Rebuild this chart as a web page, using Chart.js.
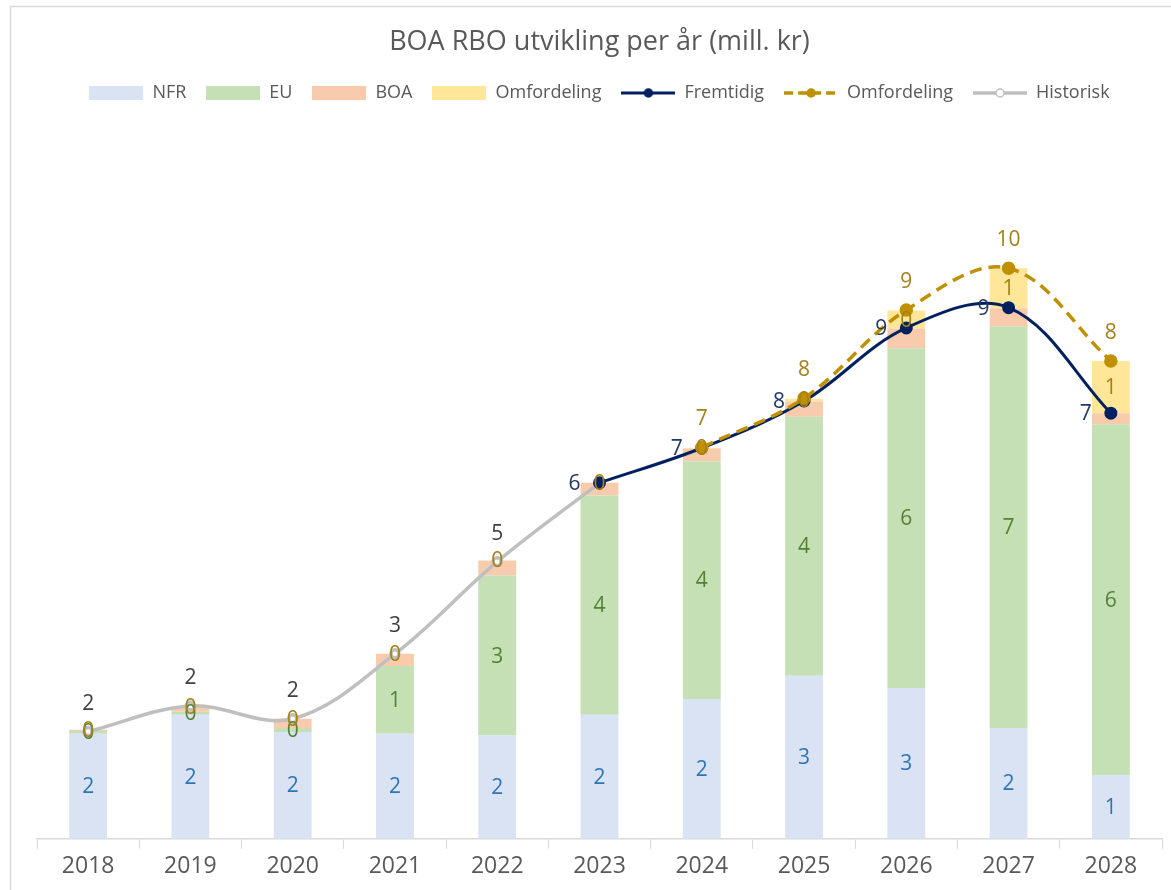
<!DOCTYPE html>
<html>
<head>
<meta charset="utf-8">
<script src="https://cdn.jsdelivr.net/npm/chart.js@4.4.1/dist/chart.umd.min.js"></script>
<style>
  html, body { margin: 0; padding: 0; background: #ffffff; }
  #wrap { width: 1171px; height: 890px; position: relative; }
</style>
</head>
<body>
<div id="wrap"><canvas id="c" width="1171" height="890"></canvas></div>
<script>
const TITLE = 'BOA RBO utvikling per år (mill. kr)';
const years = ['2018','2019','2020','2021','2022','2023','2024','2025','2026','2027','2028'];
const nfr = [1.81, 2.14, 1.84, 1.81, 1.78, 2.14, 2.41, 2.81, 2.60, 1.91, 1.10];
const eu = [0.05, 0.05, 0.07, 1.17, 2.76, 3.78, 4.10, 4.47, 5.86, 6.93, 6.05];
const boa = [0.02, 0.09, 0.16, 0.21, 0.26, 0.22, 0.22, 0.26, 0.34, 0.31, 0.19];
const omfBar = [0, 0, 0, 0, 0, 0, 0.01, 0.05, 0.31, 0.69, 0.90];
const fremtidig = [null, null, null, null, null, 6.14, 6.74, 7.55, 8.81, 9.16, 7.34];
const omfLine = [null, null, null, null, null, null, 6.75, 7.60, 9.12, 9.84, 8.24];
const historisk = [1.85, 2.29, 2.07, 3.19, 4.78, 6.14, null, null, null, null, null];
const yMax = 12;

const FONT = '"Open Sans", "Noto Sans", sans-serif';
const C = {
  nfr: '#dae3f3', eu: '#c5e0b4', boa: '#f8cbad', omf: '#ffe699',
  navy: '#002060', gold: '#bf9000', grey: '#bfbfbf',
  lblNfr: '#2e75b6', lblEu: '#548235', lblGold: '#a3801a', lblHist: '#404040', lblNavy: '#1f3864'
};

function boxImg(color) {
  const c = document.createElement('canvas');
  c.width = 54; c.height = 14;
  const x = c.getContext('2d');
  x.fillStyle = color; x.fillRect(0, 0, 54, 14);
  return c;
}
function lineImg(color, width, dash, fill) {
  const c = document.createElement('canvas');
  c.width = 54; c.height = 14;
  const x = c.getContext('2d');
  x.strokeStyle = color; x.lineWidth = width;
  if (dash) x.setLineDash(dash);
  x.beginPath(); x.moveTo(0, 7); x.lineTo(54, 7); x.stroke();
  x.setLineDash([]);
  x.beginPath(); x.arc(27, 7, 4, 0, Math.PI * 2);
  x.fillStyle = fill; x.fill();
  x.lineWidth = 1.5; x.strokeStyle = color; x.stroke();
  return c;
}
const legendImgs = [
  boxImg(C.nfr), boxImg(C.eu), boxImg(C.boa), boxImg(C.omf),
  lineImg(C.navy, 3, null, C.navy),
  lineImg(C.gold, 3.5, [9, 5], C.gold),
  lineImg(C.grey, 3.5, null, '#ffffff')
];

const borderPlugin = {
  id: 'frame',
  beforeDraw(chart) {
    const ctx = chart.ctx;
    ctx.save();
    ctx.fillStyle = '#ffffff';
    ctx.fillRect(0, 0, chart.width, chart.height);
    ctx.strokeStyle = '#d9d9d9';
    ctx.lineWidth = 1.5;
    ctx.beginPath();
    ctx.moveTo(10.5, chart.height);
    ctx.lineTo(10.5, 6.5);
    ctx.lineTo(chart.width, 6.5);
    ctx.stroke();
    ctx.restore();
  }
};

const labelPlugin = {
  id: 'vlabels',
  afterDatasetsDraw(chart) {
    const ctx = chart.ctx;
    ctx.save();
    ctx.font = '21px ' + FONT;
    ctx.textAlign = 'center';
    ctx.textBaseline = 'middle';
    chart.data.datasets.forEach((ds, i) => {
      const cfg = ds.lbl;
      if (!cfg) return;
      const meta = chart.getDatasetMeta(i);
      meta.data.forEach((el, j) => {
        const v = ds.data[j];
        if (v == null) return;
        if (cfg.skip && cfg.skip.indexOf(j) >= 0) return;
        let x = el.x, y = el.y;
        if (cfg.pos === 'center') y = (el.y + el.base) / 2;
        else if (cfg.pos === 'above') y = el.y - 29;
        else if (cfg.pos === 'left') x = el.x - 25;
        ctx.fillStyle = cfg.color;
        ctx.fillText(String(Math.round(v)), x, y + 1);
      });
    });
    ctx.restore();
  }
};

const barCommon = { type: 'bar', stack: 'bars', order: 2, barPercentage: 0.74, categoryPercentage: 0.5, borderWidth: 0 };

new Chart(document.getElementById('c'), {
  data: {
    labels: years,
    datasets: [
      Object.assign({ label: 'NFR', data: nfr, backgroundColor: C.nfr, lbl: { pos: 'center', color: C.lblNfr } }, barCommon),
      Object.assign({ label: 'EU', data: eu, backgroundColor: C.eu, lbl: { pos: 'center', color: C.lblEu } }, barCommon),
      Object.assign({ label: 'BOA', data: boa, backgroundColor: C.boa }, barCommon),
      Object.assign({ label: 'Omfordeling', data: omfBar, backgroundColor: C.omf, lbl: { pos: 'center', color: C.lblGold } }, barCommon),
      { type: 'line', label: 'Fremtidig', data: fremtidig, stack: 'l1', order: 1,
        borderColor: C.navy, backgroundColor: C.navy, borderWidth: 3, tension: 0.36,
        pointRadius: 5, pointBackgroundColor: C.navy, pointBorderColor: C.navy,
        lbl: { pos: 'left', color: C.lblNavy } },
      { type: 'line', label: 'Omfordeling', data: omfLine, stack: 'l2', order: 0,
        borderColor: C.gold, backgroundColor: C.gold, borderWidth: 3.5, borderDash: [12, 7], tension: 0.36,
        pointRadius: 5, pointBackgroundColor: C.gold, pointBorderColor: C.gold,
        lbl: { pos: 'above', color: C.lblGold } },
      { type: 'line', label: 'Historisk', data: historisk, stack: 'l3', order: 1.5,
        borderColor: C.grey, backgroundColor: '#ffffff', borderWidth: 3.5, tension: 0.36,
        pointRadius: 4, pointBackgroundColor: '#ffffff', pointBorderColor: C.grey,
        lbl: { pos: 'above', color: C.lblHist, skip: [5] } }
    ]
  },
  options: {
    responsive: false,
    animation: false,
    layout: { padding: { left: 37, right: 9, top: 0, bottom: 5.6 } },
    plugins: {
      title: { display: true, text: TITLE, color: '#595959',
        font: { family: FONT, size: 27, weight: 'normal' }, padding: { top: 25.8, bottom: 5.8 } },
      subtitle: { display: true, text: '', weight: 500, font: { size: 10, lineHeight: 1 }, padding: { top: 21, bottom: 0 } },
      legend: {
        display: true,
        labels: {
          usePointStyle: true, pointStyleWidth: 54, boxHeight: 14, padding: 20,
          color: '#595959', font: { family: FONT, size: 18 },
          sort: (a, b) => a.datasetIndex - b.datasetIndex,
          generateLabels(chart) {
            const items = Chart.defaults.plugins.legend.labels.generateLabels(chart);
            items.forEach(it => { it.pointStyle = legendImgs[it.datasetIndex]; it.rotation = 0; });
            return items;
          }
        }
      },
      tooltip: { enabled: false }
    },
    scales: {
      x: {
        stacked: true,
        grid: { display: true, offset: true, drawOnChartArea: false, drawTicks: true, tickLength: 10, color: '#d9d9d9', lineWidth: 1 },
        border: { display: true, color: '#d9d9d9', width: 1.5 },
        ticks: { color: '#595959', font: { family: FONT, size: 23 }, padding: 4, maxRotation: 0 }
      },
      y: {
        stacked: true, display: false, min: 0, max: yMax
      }
    }
  },
  plugins: [borderPlugin, labelPlugin]
});
</script>
</body>
</html>
